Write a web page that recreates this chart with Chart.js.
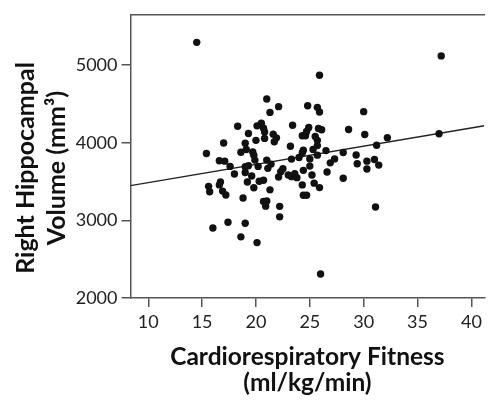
<!DOCTYPE html>
<html>
<head>
<meta charset="utf-8">
<script src="https://cdn.jsdelivr.net/npm/chart.js@4"></script>
<style>
  html, body { margin: 0; padding: 0; background: #fff; }
  #wrap { width: 488px; height: 400px; }
</style>
</head>
<body>
<div id="wrap"><canvas id="chart" width="488" height="400"></canvas></div>
<script>
// fitness (ml/kg/min) vs right hippocampal volume (mm3)
const fitness = [
  14.5, 37.2, 25.9, 37.0, 26.0, 21.0, 22.1, 21.3, 24.8, 25.7,
  25.9, 30.0, 18.3, 20.1, 20.5, 20.7, 20.8, 19.3, 21.6, 21.9,
  20.8, 21.7, 20.0, 23.4, 24.9, 24.7, 24.3, 24.6, 25.8, 26.1,
  25.5, 25.7, 28.6, 30.1, 32.2, 17.0, 19.0, 23.2, 25.7, 31.2,
  15.4, 18.6, 19.1, 19.7, 19.8, 25.3, 24.4, 24.3, 26.5, 25.7,
  28.1, 29.3, 16.6, 17.1, 19.9, 21.0, 23.3, 24.0, 25.0, 27.3,
  26.9, 30.3, 31.0, 17.6, 19.0, 19.3, 20.2, 21.4, 21.1, 22.5,
  25.0, 24.4, 29.4, 31.4, 30.3, 18.0, 19.0, 19.6, 22.3, 23.0,
  23.3, 23.6, 23.8, 22.1, 25.2, 26.6, 28.1, 20.3, 20.7, 19.2,
  16.7, 16.6, 15.6, 15.7, 16.9, 17.2, 19.8, 21.3, 24.3, 25.4,
  25.9, 18.8, 24.4, 24.7, 20.7, 21.0, 20.9, 22.2, 31.1, 22.2,
  16.0, 17.4, 19.0, 18.6, 20.1
];
const volume = [
  5295, 5120, 4870, 4117, 2310, 4564, 4466, 4392, 4478, 4457,
  4398, 4402, 4214, 4219, 4253, 4189, 4140, 4121, 4112, 4064,
  4057, 4013, 4032, 4227, 4198, 4147, 4092, 4092, 4185, 4168,
  4083, 4032, 4172, 4108, 4066, 3997, 3994, 3955, 3964, 3968,
  3862, 3879, 3913, 3883, 3841, 3913, 3904, 3872, 3900, 3841,
  3875, 3844, 3768, 3764, 3777, 3777, 3790, 3811, 3793, 3793,
  3742, 3764, 3786, 3696, 3691, 3704, 3696, 3726, 3671, 3666,
  3700, 3645, 3730, 3713, 3662, 3598, 3617, 3573, 3628, 3585,
  3564, 3602, 3551, 3560, 3585, 3624, 3543, 3505, 3518, 3496,
  3496, 3458, 3439, 3369, 3378, 3327, 3420, 3394, 3458, 3480,
  3423, 3288, 3324, 3324, 3245, 3250, 3184, 3181, 3173, 3046,
  2903, 2977, 2964, 2788, 2714
];
// regression line end points
const fitX = [8.35, 41.2];
const fitY = [3449, 4220];

const xTicks = [10, 15, 20, 25, 30, 35, 40];
const yTicks = [2000, 3000, 4000, 5000];
const xTitle = ['Cardiorespiratory Fitness', '(ml/kg/min)'];
const yTitle = ['Right Hippocampal', 'Volume (mm³)'];

const FONT = 'Lato, "Open Sans", sans-serif';
const AXIS = '#555';

// y title drawn by hand so it can sit a bit lower than the axis middle
const yTitlePlugin = {
  id: 'yTitle',
  afterDraw(chart) {
    const ctx = chart.ctx;
    ctx.save();
    ctx.fillStyle = '#111';
    ctx.font = 'bold 25px ' + FONT;
    ctx.textAlign = 'center';
    ctx.textBaseline = 'alphabetic';
    ctx.translate(0, 168);
    ctx.rotate(-Math.PI / 2);
    ctx.fillText(yTitle[0], 0, 34);
    ctx.fillText(yTitle[1], 0, 65);
    ctx.restore();
  }
};

new Chart(document.getElementById('chart'), {
  type: 'scatter',
  data: {
    datasets: [
      {
        data: fitness.map((x, i) => ({ x, y: volume[i] })),
        backgroundColor: '#111', borderWidth: 0, pointRadius: 3.7, pointHoverRadius: 3.7
      },
      {
        type: 'line',
        data: fitX.map((x, i) => ({ x, y: fitY[i] })),
        borderColor: '#222', borderWidth: 1.3, pointRadius: 0, fill: false
      }
    ]
  },
  options: {
    responsive: false,
    animation: false,
    events: [],
    layout: { padding: 0 },
    plugins: { legend: { display: false }, tooltip: { enabled: false } },
    scales: {
      x: {
        type: 'linear', min: 8.35, max: 41.2,
        afterBuildTicks: s => { s.ticks = xTicks.map(v => ({ value: v })); },
        afterFit: s => { s.height = 102; },
        grid: { drawOnChartArea: false, drawTicks: true, tickLength: 9, color: AXIS, lineWidth: 1.5 },
        border: { color: AXIS, width: 1.5 },
        ticks: { color: '#222', padding: 4, font: { family: FONT, size: 18 }, maxRotation: 0, callback: v => String(v) },
        title: { display: true, text: xTitle, color: '#111', font: { family: FONT, size: 24.5, weight: 'bold', lineHeight: 1.05 }, padding: { top: 6, bottom: 4 } }
      },
      x2: {
        type: 'linear', position: 'top', min: 8.35, max: 41.2,
        afterFit: s => { s.height = 12; },
        grid: { display: false },
        border: { color: AXIS, width: 1.5 },
        ticks: { display: false }
      },
      y: {
        type: 'linear', min: 2000, max: 5650,
        afterBuildTicks: s => { s.ticks = yTicks.map(v => ({ value: v })); },
        afterFit: s => { s.width = 130.5; },
        grid: { drawOnChartArea: false, drawTicks: true, tickLength: 9, color: AXIS, lineWidth: 1.5 },
        border: { color: AXIS, width: 1.5 },
        ticks: { color: '#222', padding: 4, font: { family: FONT, size: 18 }, callback: v => String(v) }
      }
    }
  },
  plugins: [yTitlePlugin]
});
</script>
</body>
</html>
